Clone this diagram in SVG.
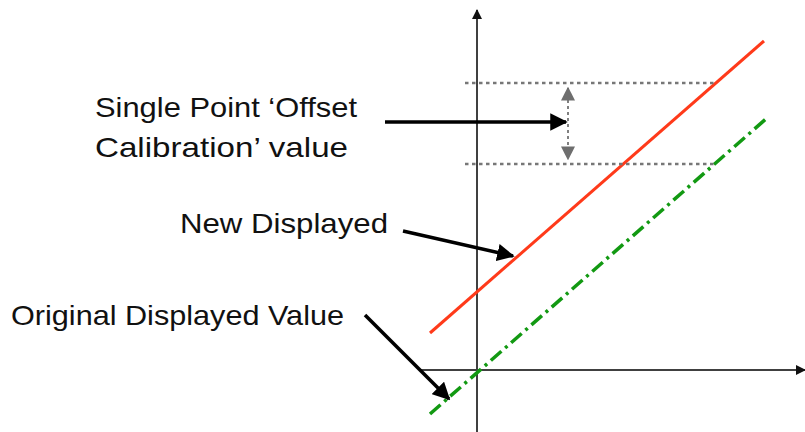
<svg xmlns="http://www.w3.org/2000/svg" width="805" height="432" viewBox="0 0 805 432">
<defs>
<marker id="axisHead" viewBox="0 0 10 10" refX="9" refY="5" markerWidth="5" markerHeight="5" markerUnits="strokeWidth" orient="auto"><path d="M0,0 L10,5 L0,10 Z" fill="#111"/></marker>
<marker id="blackHead" viewBox="0 0 10 10" refX="9" refY="5" markerWidth="5" markerHeight="5" markerUnits="strokeWidth" orient="auto"><path d="M0,0 L10,5 L0,10 Z" fill="#000"/></marker>
<marker id="grayHead" viewBox="0 0 10 10" refX="9" refY="5" markerWidth="7" markerHeight="7" markerUnits="strokeWidth" orient="auto-start-reverse"><path d="M0,0 L10,5 L0,10 Z" fill="#6e6e6e"/></marker>
</defs>
<style>
.axis{stroke:#404040;stroke-width:2;fill:none}
.guide{stroke:#777;stroke-width:2.5;stroke-dasharray:3.5 3.5;fill:none}
.ptr{stroke:#000;stroke-width:3.5;fill:none}
.lbl{font-family:"Liberation Sans",Arial,sans-serif;font-size:28px;fill:#111}
</style>
<g id="axes">
<line class="axis" x1="477" y1="432" x2="477" y2="10" marker-end="url(#axisHead)"/>
<line class="axis" x1="420" y1="370" x2="805" y2="370" marker-end="url(#axisHead)"/>
</g>
<g id="new-line"><line x1="430" y1="333" x2="764" y2="41" stroke="#ff3a1a" stroke-width="3"/></g>
<g id="original-line"><line x1="430" y1="414" x2="767" y2="118" stroke="#129912" stroke-width="3.5" stroke-dasharray="14 5 3 5"/></g>
<g id="offset-guides">
<line class="guide" x1="465" y1="83" x2="715" y2="83"/>
<line class="guide" x1="465" y1="164" x2="717" y2="164"/>
<line x1="568" y1="88" x2="568" y2="159" stroke="#808080" stroke-width="2" stroke-dasharray="3 3" marker-start="url(#grayHead)" marker-end="url(#grayHead)"/>
</g>
<g id="label-offset">
<text class="lbl" x="95" y="117" textLength="262" lengthAdjust="spacingAndGlyphs">Single Point ‘Offset</text>
<text class="lbl" x="95" y="157" textLength="253" lengthAdjust="spacingAndGlyphs">Calibration’ value</text>
</g>
<g id="label-new"><text class="lbl" x="180" y="233" textLength="208" lengthAdjust="spacingAndGlyphs">New Displayed</text></g>
<g id="label-original"><text class="lbl" x="11" y="325" textLength="333" lengthAdjust="spacingAndGlyphs">Original Displayed Value</text></g>
<g id="connectors">
<line class="ptr" x1="385" y1="122" x2="566" y2="122" marker-end="url(#blackHead)"/>
<line class="ptr" x1="403" y1="231" x2="513" y2="256" marker-end="url(#blackHead)"/>
<line class="ptr" x1="365" y1="315" x2="449" y2="399" marker-end="url(#blackHead)"/>
</g>
</svg>
